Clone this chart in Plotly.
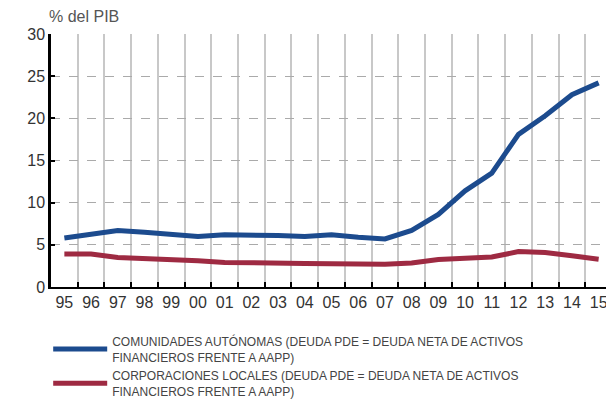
import plotly.graph_objects as go

# años (etiquetas de dos dígitos)
years = ["95", "96", "97", "98", "99", "00", "01", "02", "03", "04", "05",
         "06", "07", "08", "09", "10", "11", "12", "13", "14", "15"]

# % del PIB
comunidades = [5.8, 6.3, 6.7, 6.5, 6.3, 6.0, 6.2, 6.2, 6.1, 6.0, 6.2,
               5.9, 5.7, 6.7, 8.6, 11.4, 13.5, 18.1, 20.3, 22.8, 24.2]
corporaciones = [3.9, 3.9, 3.5, 3.4, 3.3, 3.1, 2.9, 2.9, 2.85, 2.8, 2.75,
                 2.7, 2.7, 2.85, 3.25, 3.4, 3.55, 4.2, 4.1, 3.7, 3.3]

names = [
    "COMUNIDADES AUTÓNOMAS (DEUDA PDE = DEUDA NETA DE ACTIVOS<br>FINANCIEROS FRENTE A AAPP)",
    "CORPORACIONES LOCALES (DEUDA PDE = DEUDA NETA DE ACTIVOS<br>FINANCIEROS FRENTE A AAPP)",
]

fig = go.Figure()
fig.add_trace(go.Scatter(
    x=years, y=comunidades, mode="lines", name=names[0],
    line=dict(color="#1c4b8e", width=5)
))
fig.add_trace(go.Scatter(
    x=years, y=corporaciones, mode="lines", name=names[1],
    line=dict(color="#9e2a42", width=5)
))

# la página tiene 8px de margen en el body, se compensa en los márgenes
fig.update_layout(
    width=614, height=416,
    margin=dict(l=43, r=10, t=26, b=137, autoexpand=False),
    paper_bgcolor="white", plot_bgcolor="white",
    font=dict(family="Liberation Sans, Arial, sans-serif", color="#333333"),
    showlegend=True,
    legend=dict(
        x=-0.005, y=-0.158, xanchor="left", yanchor="top",
        font=dict(family="Liberation Sans, Arial, sans-serif", size=12, color="#444444"),
        tracegroupgap=1, itemwidth=54,
    ),
    annotations=[dict(
        text="% del PIB", xref="paper", yref="paper", x=-0.008, y=1.0,
        xanchor="left", yanchor="bottom", yshift=7, showarrow=False,
        font=dict(size=16, color="#555555")
    )],
)

fig.update_xaxes(
    type="category", range=[-0.5, 20.5], automargin=False,
    tickangle=0,
    tickson="boundaries", ticks="inside", ticklen=5, tickcolor="black", tickwidth=1.5,
    showgrid=True, gridcolor="#c8c8c8", gridwidth=1.5, griddash="solid",
    showline=True, linecolor="black", linewidth=1.5,
    tickfont=dict(size=16, color="#333333"),
    mirror=False,
)
fig.update_yaxes(
    range=[0, 30], dtick=5, automargin=False,
    ticks="inside", ticklen=4, tickcolor="black", tickwidth=1.5,
    showgrid=True, gridcolor="#aaaaaa", gridwidth=1, griddash="dash",
    zeroline=False,
    showline=True, linecolor="black", linewidth=2.5,
    tickfont=dict(size=16, color="#333333"),
)

fig.write_html("out.html")
